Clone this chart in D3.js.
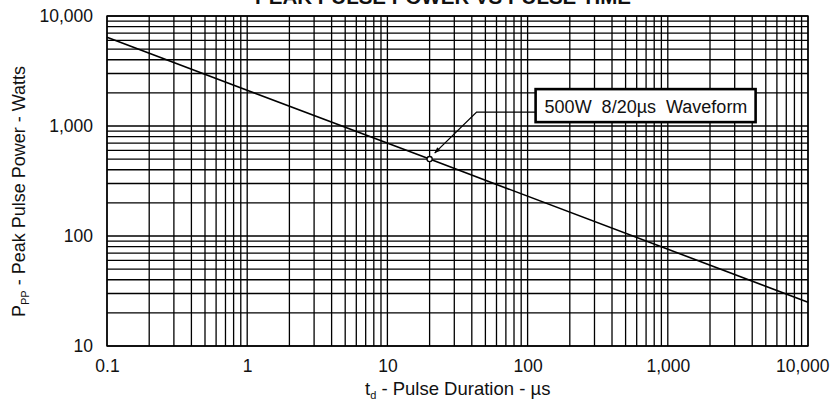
<!DOCTYPE html>
<html>
<head>
<meta charset="utf-8">
<script src="https://d3js.org/d3.v7.min.js"></script>
<style>
  body { margin: 0; background: #fff; }
  svg { display: block; font-family: "Liberation Sans", Arial, Helvetica, sans-serif; }
  .grid line { stroke: #000; stroke-width: 1.3; }
  .axis text { font-size: 17.5px; fill: #111; }
  .axis path, .axis line { display: none; }
</style>
</head>
<body>
<svg id="chart" width="832" height="407"></svg>
<script>
// pulse duration (us) vs peak pulse power (W)
const pulseUs = [0.1, 20, 10000];
const powerW = [6400, 500, 25];

const xTickValues = [0.1, 1, 10, 100, 1000, 10000];
const xTickLabels = ['0.1', '1', '10', '100', '1,000', '10,000'];
const yTickValues = [10, 100, 1000, 10000];
const yTickLabels = ['10', '100', '1,000', '10,000'];

const markerPoint = [20, 500];
const markerText = '500W  8/20\u00b5s  Waveform';

const margin = { top: 16, right: 24, bottom: 61, left: 107 };
const width = 832, height = 407;
const w = width - margin.left - margin.right;
const h = height - margin.top - margin.bottom;

const svg = d3.select('#chart');
const g = svg.append('g').attr('transform', `translate(${margin.left},${margin.top})`);

const x = d3.scaleLog().domain([0.1, 10000]).range([0, w]);
const y = d3.scaleLog().domain([10, 10000]).range([h, 0]);

// every 1..9 step per decade gets a grid line
const decadeSteps = (lo, hi) => {
  const out = [];
  for (let e = Math.log10(lo); e < Math.log10(hi); e++) {
    for (let m = 1; m < 10; m++) out.push(m * Math.pow(10, e));
  }
  out.push(hi);
  return out;
};

const grid = g.append('g').attr('class', 'grid');
grid.selectAll('.vx').data(decadeSteps(0.1, 10000)).enter().append('line')
  .attr('x1', d => x(d)).attr('x2', d => x(d))
  .attr('y1', 0).attr('y2', h);
grid.selectAll('.hy').data(decadeSteps(10, 10000)).enter().append('line')
  .attr('y1', d => y(d)).attr('y2', d => y(d))
  .attr('x1', 0).attr('x2', w);

g.append('rect').attr('width', w).attr('height', h)
  .attr('fill', 'none').attr('stroke', '#000').attr('stroke-width', 1.4);

// axes (labels only)
const xAxis = g.append('g').attr('class', 'axis')
  .attr('transform', `translate(0,${h})`)
  .call(d3.axisBottom(x).tickValues(xTickValues).tickSize(0).tickPadding(14)
    .tickFormat((d, i) => xTickLabels[i]));
// last label sits flush with the page edge
xAxis.selectAll('.tick:last-of-type text').attr('text-anchor', 'end').attr('dx', 21);

g.append('g').attr('class', 'axis')
  .call(d3.axisLeft(y).tickValues(yTickValues).tickSize(0).tickPadding(14)
    .tickFormat((d, i) => yTickLabels[i]));

// the curve
const line = d3.line().x(d => x(d[0])).y(d => y(d[1]));
g.append('path')
  .datum(pulseUs.map((d, i) => [d, powerW[i]]))
  .attr('d', line)
  .attr('fill', 'none').attr('stroke', '#000').attr('stroke-width', 1.6);

// annotation
const mx = x(markerPoint[0]), my = y(markerPoint[1]);
svg.append('defs').append('marker')
  .attr('id', 'arrow').attr('viewBox', '0 0 10 10')
  .attr('refX', 10).attr('refY', 5)
  .attr('markerWidth', 10).attr('markerHeight', 6).attr('orient', 'auto')
  .attr('markerUnits', 'userSpaceOnUse')
  .append('path').attr('d', 'M0,1 L10,5 L0,9 Z').attr('fill', '#000');

const boxX = mx + 106, boxY = my - 70, boxW = 220, boxH = 33;
g.append('polyline')
  .attr('points', `${boxX},${my - 47} ${mx + 47},${my - 47} ${mx + 5},${my - 6}`)
  .attr('fill', 'none').attr('stroke', '#000').attr('stroke-width', 1.3)
  .attr('marker-end', 'url(#arrow)');

g.append('circle').attr('cx', mx).attr('cy', my).attr('r', 2.6)
  .attr('fill', '#fff').attr('stroke', '#000').attr('stroke-width', 1.3);

g.append('rect')
  .attr('x', boxX).attr('y', boxY).attr('width', boxW).attr('height', boxH)
  .attr('fill', '#fff').attr('stroke', '#000').attr('stroke-width', 2.6);
g.append('text')
  .attr('x', boxX + 9).attr('y', boxY + 23.5)
  .attr('xml:space', 'preserve')
  .style('white-space', 'pre')
  .attr('font-size', 18).attr('fill', '#111')
  .text(markerText);

// titles
svg.append('text')
  .attr('x', 443).attr('y', 4)
  .attr('text-anchor', 'middle')
  .attr('font-size', 20.5).attr('font-weight', 'bold').attr('fill', '#111')
  .text('PEAK PULSE POWER VS PULSE TIME');

const xt = svg.append('text')
  .attr('x', 365).attr('y', 395)
  .attr('font-size', 18.5).attr('fill', '#111');
xt.append('tspan').text('t');
xt.append('tspan').attr('font-size', 11).attr('dy', 4).text('d');
xt.append('tspan').attr('dy', -4).text(' - Pulse Duration - \u00b5s');

const yt = svg.append('text')
  .attr('transform', 'translate(25,317) rotate(-90)')
  .attr('font-size', 18).attr('fill', '#111');
yt.append('tspan').text('P');
yt.append('tspan').attr('font-size', 11).attr('dy', 4).text('PP');
yt.append('tspan').attr('dy', -4).text(' - Peak Pulse Power - Watts');
</script>
</body>
</html>
